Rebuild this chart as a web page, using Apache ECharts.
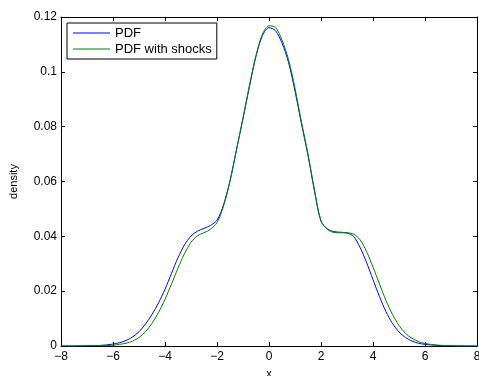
<!DOCTYPE html>
<html>
<head>
<meta charset="utf-8">
<script src="https://cdn.jsdelivr.net/npm/echarts@6/dist/echarts.min.js"></script>
<style>
  html, body { margin: 0; padding: 0; background: #fff; }
  #chart { width: 479px; height: 376px; }
</style>
</head>
<body>
<div id="chart"></div>
<script>
// x grid the densities were read at
const xs = [-8, -7.5, -7, -6.5, -6, -5.75, -5.5, -5.25, -5, -4.75, -4.5, -4.25, -4, -3.75, -3.5, -3.25,
  -3, -2.75, -2.5, -2.25, -2, -1.75, -1.5, -1.25, -1, -0.75, -0.5, -0.25,
  0, 0.25, 0.5, 0.75, 1, 1.25, 1.5, 1.75, 2, 2.25, 2.5, 2.75,
  3, 3.25, 3.5, 3.75, 4, 4.25, 4.5, 4.75, 5, 5.25, 5.5, 5.75, 6, 6.5, 7, 7.5, 8]
const pdf = [0, 0, 0.00005, 0.0002, 0.0007, 0.0012, 0.0020, 0.0033, 0.0052, 0.0080, 0.0115, 0.0157, 0.0207, 0.0265, 0.0322, 0.0369,
  0.0401, 0.0419, 0.0429, 0.0440, 0.0459, 0.0515, 0.0603, 0.0716, 0.0830, 0.0947, 0.1057, 0.1133,
  0.1161, 0.1150, 0.1105, 0.1035, 0.0930, 0.0810, 0.0695, 0.0565, 0.0455, 0.0427, 0.0417, 0.0415,
  0.0412, 0.0400, 0.0360, 0.0305, 0.0242, 0.0180, 0.0125, 0.0082, 0.0051, 0.0031, 0.0018, 0.0010, 0.0006, 0.0002, 0.00005, 0, 0]
const pdfShocks = [0, 0, 0.0001, 0.0001, 0.0003, 0.0006, 0.0010, 0.0018, 0.0031, 0.0052, 0.0083, 0.0122, 0.0170, 0.0226, 0.0284, 0.0337,
  0.0378, 0.0402, 0.0413, 0.0426, 0.0450, 0.0510, 0.0600, 0.0716, 0.0832, 0.0952, 0.1060, 0.1138,
  0.1168, 0.1162, 0.1116, 0.1045, 0.0940, 0.0816, 0.0700, 0.0568, 0.0456, 0.0425, 0.0414, 0.0413,
  0.0413, 0.0408, 0.0388, 0.0345, 0.0288, 0.0226, 0.0166, 0.0115, 0.0075, 0.0046, 0.0028, 0.0016, 0.0009, 0.0003, 0.0001, 0, 0]

const xTicks = { min: -8, max: 8, interval: 2 }
const yTicks = { min: 0, max: 0.12, interval: 0.02 }

const fmt = (v) => String(+v.toFixed(2)).replace('-', '\u2212')
const font = 'Liberation Sans, Arial, sans-serif'

const chart = echarts.init(document.getElementById('chart'))
const axisCommon = {
  axisLine: { show: true, onZero: false, lineStyle: { color: '#000', width: 1 } },
  axisTick: { show: true, inside: true, length: 4, lineStyle: { color: '#000' } },
  splitLine: { show: false }
}
const option = {
  animation: false,
  color: ['#0000ff', '#008000'],
  grid: { left: 61, right: 2, top: 17, bottom: 30, outerBoundsMode: 'none' },
  legend: {
    left: 67,
    top: 23,
    orient: 'vertical',
    backgroundColor: '#fff',
    borderColor: '#000',
    borderWidth: 1,
    borderRadius: 0,
    padding: [3, 5, 3, 6],
    itemGap: 2,
    itemWidth: 37,
    itemHeight: 1,
    icon: 'rect',
    textStyle: { fontFamily: font, fontSize: 13, color: '#000', lineHeight: 14 }
  },
  xAxis: [
    Object.assign({
      type: 'value', ...xTicks,
      name: 'x', nameLocation: 'middle', nameGap: 22,
      nameTextStyle: { fontFamily: font, fontSize: 11, color: '#000' },
      axisLabel: { fontFamily: font, fontSize: 12, color: '#000', margin: 5, formatter: fmt }
    }, axisCommon),
    Object.assign({ type: 'value', position: 'top', ...xTicks, axisLabel: { show: false } }, axisCommon)
  ],
  yAxis: [
    Object.assign({
      type: 'value', ...yTicks,
      name: 'density', nameLocation: 'middle', nameGap: 42,
      nameTextStyle: { fontFamily: font, fontSize: 11, color: '#000' },
      axisLabel: { fontFamily: font, fontSize: 12, color: '#000', margin: 4, formatter: fmt }
    }, axisCommon),
    Object.assign({ type: 'value', position: 'right', ...yTicks, axisLabel: { show: false } }, axisCommon)
  ],
  series: [
    {
      name: 'PDF',
      type: 'line',
      symbol: 'none',
      smooth: 0.3,
      lineStyle: { width: 1 },
      data: xs.map((x, i) => [x, pdf[i]])
    },
    {
      name: 'PDF with shocks',
      type: 'line',
      symbol: 'none',
      smooth: 0.3,
      lineStyle: { width: 1 },
      data: xs.map((x, i) => [x, pdfShocks[i]])
    }
  ]
}
option && chart.setOption(option)
</script>
</body>
</html>
